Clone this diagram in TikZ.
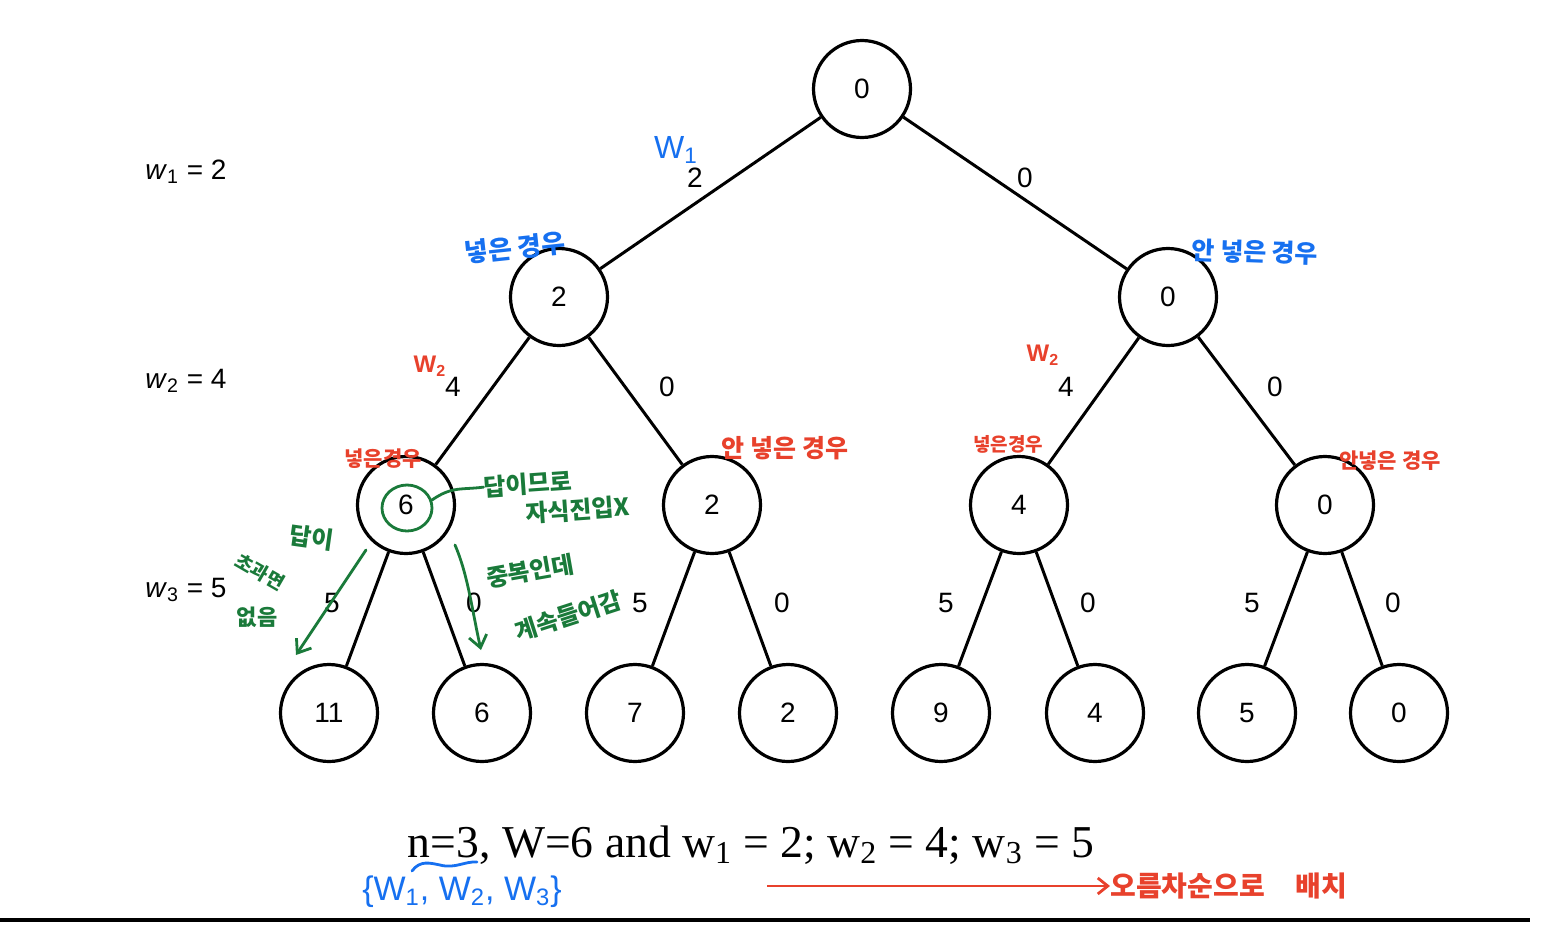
\documentclass[tikz,border=0pt]{standalone}
\usepackage{fontspec}
\setmainfont{Liberation Serif}
\setsansfont{Liberation Sans}
\newfontfamily\kr{Noto Sans CJK KR}
\usetikzlibrary{arrows.meta}
\definecolor{hblue}{HTML}{1670F0}
\definecolor{hred}{HTML}{E8412C}
\definecolor{hgreen}{HTML}{1A7A3A}
\begin{document}
\begin{tikzpicture}[x=0.5pt,y=-0.5pt,
  tn/.style={circle,draw,line width=1.6pt,minimum size=48.5pt,inner sep=0pt,font=\sffamily\fontsize{14}{14}\selectfont},
  ed/.style={line width=1.5pt},
  el/.style={font=\sffamily\fontsize{14}{14}\selectfont},
  wl/.style={font=\sffamily\fontsize{14}{14}\selectfont},
  kb/.style={text=hblue,font=\kr\bfseries\fontsize{#1}{#1}\selectfont,inner sep=0pt},
  kr/.style={text=hred,font=\kr\bfseries\fontsize{#1}{#1}\selectfont,inner sep=0pt},
  kg/.style={text=hgreen,font=\kr\bfseries\fontsize{#1}{#1}\selectfont,inner sep=0pt},
  hw/.style={line width=1.4pt,line cap=round,line join=round}]
\useasboundingbox (0,0) rectangle (1552,926);
% tree nodes
\node[tn] (r) at (862,89) {0};
\node[tn] (a) at (559,297) {2};
\node[tn] (b) at (1168,297) {0};
\node[tn] (aa) at (406,505) {6};
\node[tn] (ab) at (712,505) {2};
\node[tn] (ba) at (1019,505) {4};
\node[tn] (bb) at (1325,505) {0};
\node[tn] (l1) at (329,713) {11};
\node[tn] (l2) at (482,713) {6};
\node[tn] (l3) at (635,713) {7};
\node[tn] (l4) at (788,713) {2};
\node[tn] (l5) at (941,713) {9};
\node[tn] (l6) at (1095,713) {4};
\node[tn] (l7) at (1247,713) {5};
\node[tn] (l8) at (1399,713) {0};
% edges
\draw[ed] (r) -- (a); \draw[ed] (r) -- (b);
\draw[ed] (a) -- (aa); \draw[ed] (a) -- (ab);
\draw[ed] (b) -- (ba); \draw[ed] (b) -- (bb);
\draw[ed] (aa) -- (l1); \draw[ed] (aa) -- (l2);
\draw[ed] (ab) -- (l3); \draw[ed] (ab) -- (l4);
\draw[ed] (ba) -- (l5); \draw[ed] (ba) -- (l6);
\draw[ed] (bb) -- (l7); \draw[ed] (bb) -- (l8);
% edge labels
\node[el] (e1) at (695,178) {2};
\node[el] (e2) at (1025,178) {0};
\node[el] (e3) at (453,387) {4};
\node[el] (e4) at (667,387) {0};
\node[el] (e5) at (1066,387) {4};
\node[el] (e6) at (1275,387) {0};
\node[el] (e7) at (332,603) {5};
\node[el] (e8) at (474,603) {0};
\node[el] (e9) at (640,603) {5};
\node[el] (e10) at (782,603) {0};
\node[el] (e11) at (946,603) {5};
\node[el] (e12) at (1088,603) {0};
\node[el] (e13) at (1252,603) {5};
\node[el] (e14) at (1393,603) {0};
% weight labels
\node[wl] (w1) at (186,172) {\textit{w}\textsubscript{1} = 2};
\node[wl] (w2) at (186,381) {\textit{w}\textsubscript{2} = 4};
\node[wl] (w3) at (186,590) {\textit{w}\textsubscript{3} = 5};
% caption
\node[font=\fontsize{22.8}{22.8}\selectfont,inner sep=0pt,anchor=base] (cap) at (751,857) {n=3, W=6 and w\textsubscript{1} = 2; w\textsubscript{2} = 4; w\textsubscript{3} = 5};
\draw[line width=2pt] (0,920) -- (1530,920);
% blue annotations
\node[kb=13,rotate=6] (t1) at (515,248) {넣은 경우};
\node[kb=12.5,rotate=-2] (t2) at (1255,252) {안 넣은 경우};
\node[text=hblue,font=\sffamily\fontsize{16}{16}\selectfont,inner sep=0pt] (bw) at (676,150) {W\textsubscript{1}};
\node[text=hblue,font=\sffamily\fontsize{17}{17}\selectfont,inner sep=0pt] (set) at (462,892) {\{W\textsubscript{1}, W\textsubscript{2}, W\textsubscript{3}\}};
\draw[hw,hblue] (412,871) .. controls (420,860) and (430,863) .. (440,865) .. controls (455,869) and (465,861) .. (477,862);
% red annotations
\node[text=hred,font=\sffamily\bfseries\fontsize{12}{12}\selectfont,inner sep=0pt] (rw1) at (430,366) {W\textsubscript{2}};
\node[text=hred,font=\sffamily\bfseries\fontsize{12}{12}\selectfont,inner sep=0pt] (rw2) at (1043,355) {W\textsubscript{2}};
\node[kr=10.5] (t3) at (383,459) {넣은경우};
\node[kr=12.5] (t4) at (785,448) {안 넣은 경우};
\node[kr=9.5] (t5) at (1008,444) {넣은경우};
\node[kr=10.5] (t6) at (1390,461) {안넣은 경우};
\coordinate (ra) at (767,886);
\node[kr=14,anchor=west] (t7) at (1110,886) {오름차순으로\hspace{1.1em}배치};
\draw[hred,line width=1.4pt,-{Straight Barb[length=5pt,width=8pt]}] (ra) -- (t7.west);
% green annotations
\draw[hw,hgreen] (407,508) ellipse [x radius=25, y radius=23];
\coordinate (gc) at (432,500);
\node[kg=12,rotate=4] (g1) at (528,484) {답이므로};
\node[kg=12,rotate=4] (g2) at (578,510) {자식진입X};
\draw[hw,hgreen] (gc) .. controls (452,486) and (462,490) .. (g1.west);
\node[kg=12,rotate=-8] (g3) at (312,538) {답이};
\node[kg=9.5,rotate=-30] (g4) at (260,572) {초과면};
\node[kg=11] (g5) at (257,617) {없음};
\coordinate (ga1) at (366,550);
\coordinate (ga2) at (296,655);
\draw[hw,hgreen,-{Straight Barb[length=6pt,width=9pt]}] (ga1) -- (ga2);
\coordinate (gb1) at (455,545);
\coordinate (gb2) at (481,650);
\draw[hw,hgreen,-{Straight Barb[length=6pt,width=9pt]}] (gb1) .. controls (468,575) and (472,610) .. (gb2);
\node[kg=12,rotate=10] (g6) at (530,571) {중복인데};
\node[kg=12,rotate=18] (g7) at (568,616) {계속들어감};
\end{tikzpicture}
\end{document}
